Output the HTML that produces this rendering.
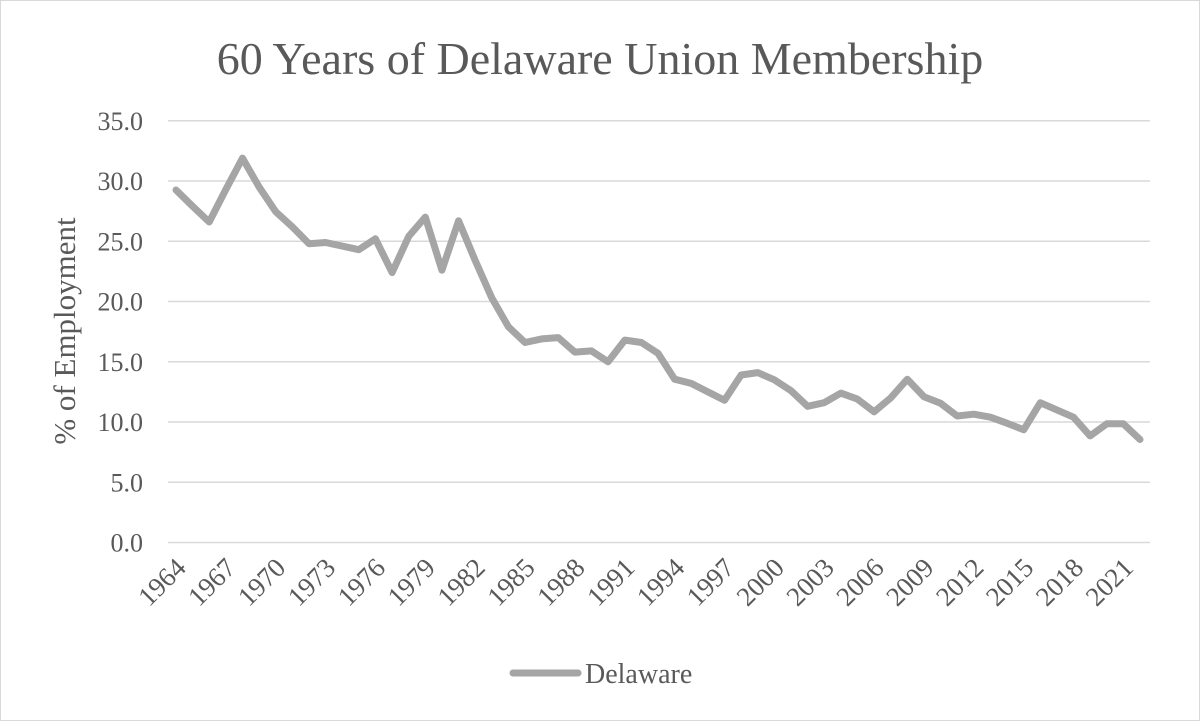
<!DOCTYPE html>
<html><head><meta charset="utf-8"><style>
body{margin:0;background:#fff}
svg{display:block;font-family:"Liberation Serif",serif}
</style></head><body>
<svg width="1200" height="721" viewBox="0 0 1200 721">
<rect x="0.5" y="0.5" width="1199" height="720" fill="#fff" stroke="#d9d9d9"/>
<text x="600" y="74" text-anchor="middle" font-size="46" fill="#595959">60 Years of Delaware Union Membership</text>
<g id="grid"></g>
<g id="yticks"></g>
<g id="xticks"></g>
<text transform="translate(75,331) rotate(-90)" text-anchor="middle" font-size="31" fill="#595959">% of Employment</text>
<polyline id="line" fill="none" stroke="#a5a5a5" stroke-width="7" stroke-linejoin="round" stroke-linecap="round"/>
<g>
<line x1="513" y1="673" x2="578" y2="673" stroke="#a5a5a5" stroke-width="7" stroke-linecap="round"/>
<text x="585" y="683" font-size="28" fill="#595959">Delaware</text>
</g>
</svg>
<script>
const years=[];for(let y=1964;y<=2022;y++)years.push(y);
const values=[29.25,27.9,26.6,29.3,31.9,29.5,27.45,26.2,24.8,24.9,24.6,24.3,25.2,22.4,25.4,27.0,22.6,26.7,23.4,20.3,17.9,16.6,16.9,17.0,15.8,15.9,15.0,16.8,16.6,15.7,13.55,13.2,12.5,11.8,13.9,14.1,13.5,12.6,11.3,11.6,12.4,11.9,10.85,12.0,13.55,12.1,11.55,10.5,10.65,10.4,9.9,9.35,11.6,11.0,10.4,8.85,9.85,9.85,8.55];
const yTicks=[0,5,10,15,20,25,30,35];
const NS="http://www.w3.org/2000/svg";
const x0=176,x1=1140,plotL=168,plotR=1150;
const xs=i=>x0+(x1-x0)*i/(years.length-1);
const ys=v=>542.5-v*12.05;
const grid=document.getElementById('grid'),yt=document.getElementById('yticks'),xt=document.getElementById('xticks');
yTicks.forEach(t=>{
 const l=document.createElementNS(NS,'line');
 l.setAttribute('x1',plotL);l.setAttribute('x2',plotR);l.setAttribute('y1',ys(t));l.setAttribute('y2',ys(t));
 l.setAttribute('stroke','#d9d9d9');l.setAttribute('stroke-width','1.5');
 
 
 grid.appendChild(l);
 const tx=document.createElementNS(NS,'text');
 tx.setAttribute('x',143);tx.setAttribute('y',ys(t)+9);tx.setAttribute('text-anchor','end');
 tx.setAttribute('font-size','26');tx.setAttribute('fill','#595959');tx.textContent=t.toFixed(1);
 
 
 yt.appendChild(tx);
});
years.forEach((y,i)=>{
 if(i%3!==0)return;
 const tx=document.createElementNS(NS,'text');
 const ax=xs(i)-2,ay=556;
 tx.setAttribute('transform','translate('+ax+','+ay+') rotate(-45)');
 tx.setAttribute('text-anchor','end');tx.setAttribute('dy','0.7em');
 tx.setAttribute('font-size','27');tx.setAttribute('fill','#595959');tx.textContent=y;
 
 
 xt.appendChild(tx);
});
document.getElementById('line').setAttribute('points',values.map((v,i)=>xs(i).toFixed(1)+','+ys(v).toFixed(1)).join(' '));
</script>
</body></html>
